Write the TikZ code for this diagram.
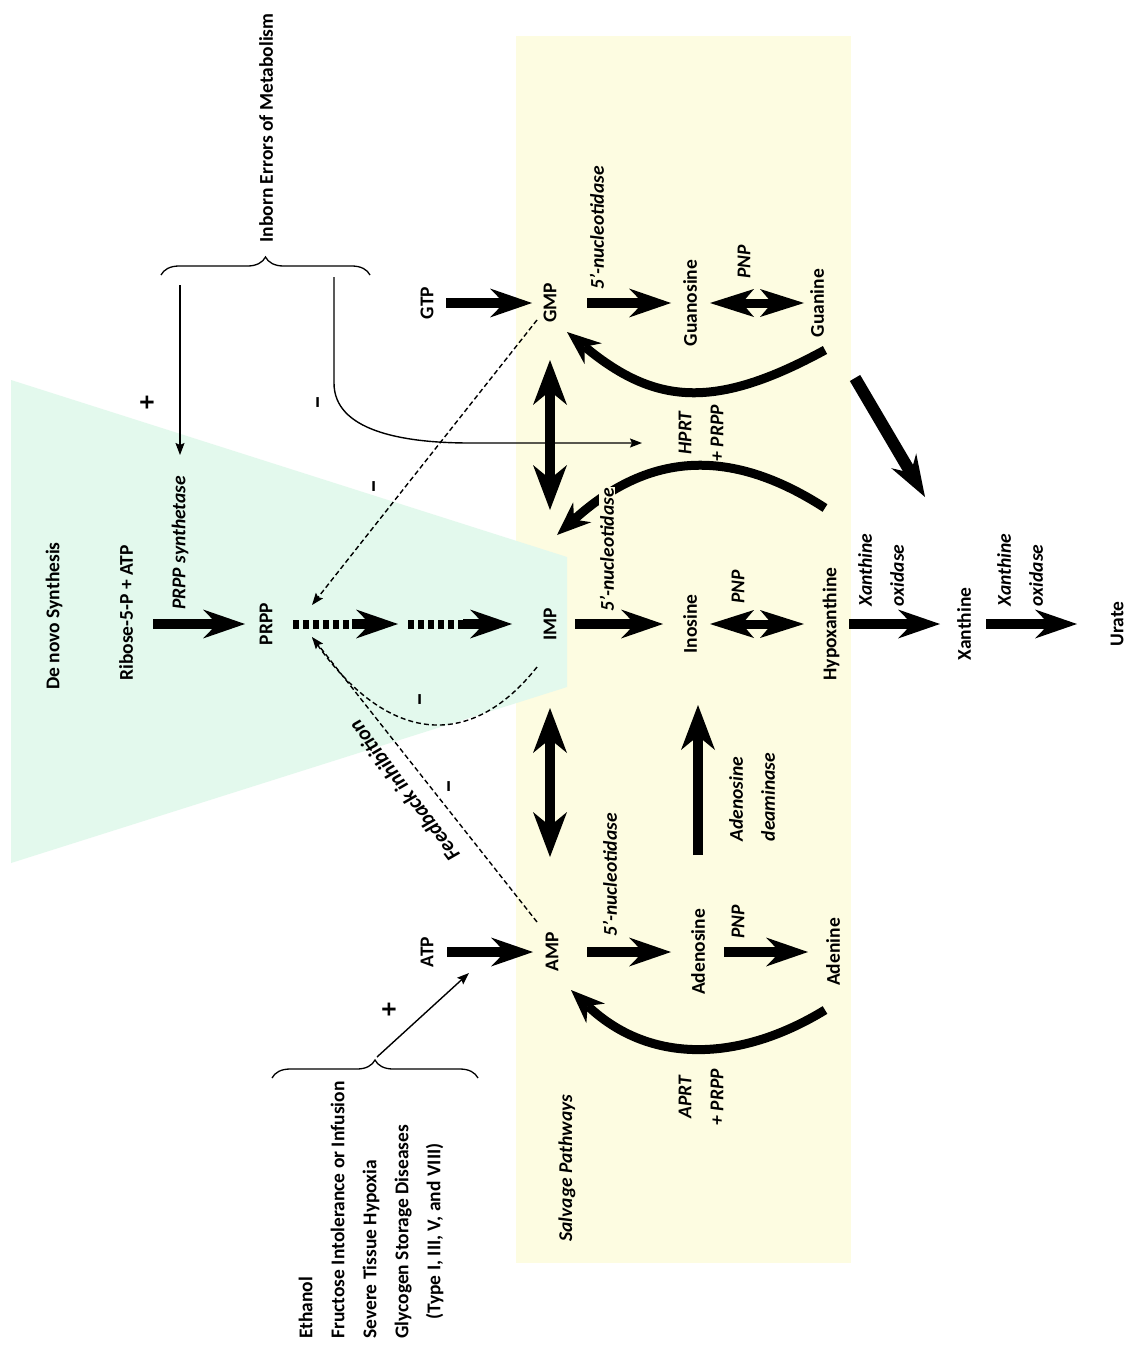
\documentclass[tikz,border=0pt]{standalone}
\usepackage{fontspec}
\setmainfont{Carlito}
\usepackage{calc}
\usetikzlibrary{arrows.meta,decorations.pathreplacing}

\definecolor{salvagefill}{RGB}{253,252,225}
\definecolor{denovofill}{RGB}{227,249,237}

\newcommand\diagfont{\fontsize{19.5}{32}\selectfont\bfseries}

\begin{document}
\begin{tikzpicture}[x=1pt,y=1pt,
  lbl/.style={rotate=90, inner sep=0pt, font=\diagfont},
  enz/.style={rotate=90, inner sep=0pt, font=\diagfont\itshape},
  sign/.style={rotate=90, inner sep=0pt, font=\fontsize{28}{28}\selectfont\bfseries},
  bighead/.tip={Stealth[length=42pt,width=29pt,inset=14pt,line width=0pt]},
  duohead/.tip={Stealth[length=44pt,width=28pt,inset=12pt,line width=0pt]},
  vhead/.tip={Stealth[length=45pt,width=34pt,inset=14pt,line width=0pt]},
  midhead/.tip={Stealth[length=34pt,width=27pt,inset=11pt,line width=0pt]},
  smallhead/.tip={Stealth[length=12pt,width=9pt,inset=2pt]},
  fat/.style={line width=10pt, -bighead},
  fatboth/.style={line width=9pt, duohead-duohead},
  fatvert/.style={line width=10pt, vhead-vhead},
  fatdots/.style={line width=9pt, dash pattern=on 6pt off 4pt},
  fatcurve/.style={line width=9pt, -midhead},
  thinarrow/.style={line width=1.4pt, -smallhead},
  fbline/.style={line width=1.4pt, dash pattern=on 5pt off 3pt},
  curly/.style={line width=1.3pt, decorate, decoration={brace, amplitude=18pt}}
]
\useasboundingbox (0,0) rectangle (1132,-1346);
\fill[white] (0,0) rectangle (1132,-1346);

% salvage pathway panel and de novo wedge
\fill[salvagefill] (516,-36) rectangle (851,-1263);
\fill[denovofill] (11,-380) -- (567,-557) -- (567,-687) -- (11,-863) -- cycle;

% free ends of the curved and slanted connectors
\coordinate (guaout) at (825,-350);
\coordinate (gmpin)  at (567,-332);
\coordinate (hypout) at (825,-508);
\coordinate (impin)  at (557,-535);
\coordinate (adeout) at (825,-1010);
\coordinate (ampin)  at (571,-990);
\coordinate (guadiag) at (855,-378);
\coordinate (xandiag) at (925,-497);
\coordinate (dmid)   at (403,-624);
\coordinate (bracel) at (180,-285);
\coordinate (bracer) at (334,-277);
\coordinate (hprtin) at (642,-443);
\coordinate (bracetip) at (377,-1057);
\coordinate (atpin)  at (469,-973);
\coordinate (gmpfb)  at (537,-320);
\coordinate (ampfb)  at (537,-922);
\coordinate (impfb)  at (537,-667);
\coordinate (prppa)  at (312,-605);
\coordinate (prppb)  at (312,-637);

% salvage curves (drawn first so that labels sit on top)
\draw[fatcurve] (guaout) .. controls (715,-410) and (655,-405) .. (gmpin);
\draw[fatcurve] (hypout) .. controls (720,-440) and (640,-460) .. (impin);
\draw[fatcurve] (adeout) .. controls (740,-1062) and (650,-1065) .. (ampin);

% labels
\node[lbl] (inborn) at (266,-128) {Inborn Errors of Metabolism};
\node[lbl] (denovo) at (54,-616) {De novo Synthesis};
\node[lbl] (ribose) at (126,-613) {Ribose-5-P + ATP};
\node[enz] (prppsyn) at (180,-543) {PRPP synthetase};
\node[lbl] (prpp) at (266,-624) {PRPP};
\node[lbl] (imp) at (550,-624) {IMP};
\node[lbl] (gtp) at (427,-303) {GTP};
\node[lbl] (gmp) at (550,-303) {GMP};
\node[enz] (nucg) at (597,-228) {5'-nucleotidase};
\node[lbl] (guanosine) at (690,-303) {Guanosine};
\node[enz] (pnpg) at (744,-262) {PNP};
\node[lbl] (guanine) at (817,-303) {Guanine};
\node[enz, align=center] (hprt) at (701,-433) {HPRT\\+ PRPP};
\node[enz, fill=salvagefill, inner sep=1pt] (nuci) at (607,-550) {5'-nucleotidase};
\node[lbl] (inosine) at (690,-624) {Inosine};
\node[enz] (pnpi) at (738,-587) {PNP};
\node[lbl] (hypox) at (831,-624) {Hypoxanthine};
\node[enz, align=left] (xo1) at (881,-570) {Xanthine\\oxidase};
\node[lbl] (xanthine) at (964,-624) {Xanthine};
\node[enz, align=left] (xo2) at (1020,-570) {Xanthine\\oxidase};
\node[lbl] (urate) at (1117,-624) {Urate};
\node[lbl] (atp) at (427,-952) {ATP};
\node[lbl] (amp) at (552,-952) {AMP};
\node[enz] (nuca) at (610,-875) {5'-nucleotidase};
\node[lbl] (adenosine) at (698,-952) {Adenosine};
\node[enz] (pnpa) at (738,-922) {PNP};
\node[lbl] (adenine) at (833,-952) {Adenine};
\node[enz, align=left] (ada) at (752,-797) {Adenosine\\deaminase};
\node[enz, align=center] (aprt) at (701,-1097) {APRT\\+ PRPP};
\node[enz] (salvage) at (567,-1168) {Salvage Pathways};
\node[lbl, align=left] (causes) at (371,-1210) {Ethanol\\Fructose Intolerance or Infusion\\Severe Tissue Hypoxia\\Glycogen Storage Diseases\\\makebox[\widthof{Glycogen Storage Diseases}][c]{(Type I, III, V, and VIII)}};
\node[inner sep=0pt, rotate=126.8, font=\fontsize{21}{24}\selectfont\bfseries\itshape] (feedback) at (404,-791) {Feedback inhibition};

% regulation signs
\node[sign] (plusa) at (148,-403) {+};
\node[sign] (minusa) at (321,-403) {\textendash};
\node[sign] (minusb) at (377,-487) {\textendash};
\node[sign] (minusc) at (423,-700) {\textendash};
\node[sign] (minusd) at (452,-787) {\textendash};
\node[sign] (plusb) at (390,-1010) {+};

% braces
\draw[curly] (161,-275) -- (370,-275);
\draw[curly] (272,-1078) -- (478,-1078);

% de novo steps: dotted shafts with solid heads
\draw[fat, shorten <=27pt, shorten >=21pt] (ribose.center |- prpp.center) -- (prpp.center);
\draw[fatdots, shorten <=27pt, shorten >=30pt] (prpp.center) -- (dmid);
\draw[fat, shorten <=86pt, shorten >=5pt] (prpp.center) -- (dmid);
\draw[fatdots, shorten <=5pt, shorten >=66pt] (dmid) -- (imp.center);
\draw[fat, shorten <=60pt, shorten >=38pt] (dmid) -- (imp.center);

% main horizontal steps
\draw[fat, shorten <=19pt, shorten >=18pt] (gtp.center) -- (gmp.center);
\draw[fat, shorten <=37pt, shorten >=19pt] (gmp.center) -- (guanosine.center);
\draw[fatboth, shorten <=20pt, shorten >=13pt] (guanosine.center) -- (guanine.center);
\draw[fat, shorten <=25pt, shorten >=27pt] (imp.center) -- (inosine.center);
\draw[fatboth, shorten <=20pt, shorten >=27pt] (inosine.center) -- (hypox.center);
\draw[fat, shorten <=18pt, shorten >=24pt] (hypox.center) -- (xanthine.center);
\draw[fat, shorten <=22pt, shorten >=40pt] (xanthine.center) -- (urate.center);
\draw[fat, shorten <=20pt, shorten >=19pt] (atp.center) -- (amp.center);
\draw[fat, shorten <=35pt, shorten >=27pt] (amp.center) -- (adenosine.center);
\draw[fat, shorten <=26pt, shorten >=25pt] (adenosine.center) -- (adenine.center);

% vertical steps
\draw[fatvert, shorten <=57pt, shorten >=114pt] (gmp.center) -- (imp.center);
\draw[fatvert, shorten <=84pt, shorten >=95pt] (imp.center) -- (imp.center |- amp.center);
\draw[line width=10pt, -vhead, shorten <=97pt, shorten >=81pt] (adenosine.center) -- (adenosine.center |- inosine.center);
\draw[line width=12pt, -bighead] (guadiag) -- (xandiag);

% regulatory inputs
\draw[thinarrow] (bracel) -- (bracel |- 0,-455);
\draw[thinarrow] (bracer) -- (334,-383) .. controls (334,-430) and (400,-443) .. (470,-443) -- (hprtin);
\draw[thinarrow] (bracetip) -- (atpin);

% feedback inhibition
\draw[fbline, -smallhead] (gmpfb) -- (prppa);
\draw[fbline, -smallhead] (ampfb) -- (prppb);
\draw[fbline] (impfb) .. controls (470,-752) and (385,-745) .. (prppb);
\end{tikzpicture}
\end{document}
